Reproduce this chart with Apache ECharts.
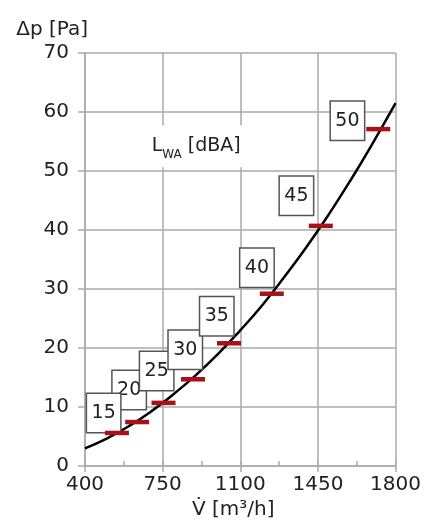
<!DOCTYPE html>
<html><head><meta charset="utf-8">
<script src="https://cdn.jsdelivr.net/npm/echarts@6/dist/echarts.min.js"></script>
<style>html,body{margin:0;padding:0;background:#fff}#c{width:424px;height:531px}</style>
</head><body><div id="c"></div>
<script>
// Fan curve: volume flow [m3/h] vs pressure drop [Pa]
const curveFlow = [400,500,600,700,800,900,1000,1100,1200,1300,1400,1500,1600,1700,1800];
const curvePressure = [3.0,4.7,6.8,9.3,12.2,15.4,19.0,23.0,27.3,32.1,37.2,42.7,48.6,54.9,61.5];
// Sound power level markers on the curve
const levelLabels = ['15','20','25','30','35','40','45','50'];
const levelFlow = [544,635,754,887,1049,1242,1463,1722];
const levelPressure = [5.6,7.45,10.7,14.7,20.8,29.2,40.7,57.1];
// Where each level's boxed label sits (data coordinates)
const boxFlow = [484,599,723,852,994,1175,1353,1583];
const boxPressure = [9.0,12.9,16.1,19.7,25.4,33.6,45.8,58.5];
// Axis ticks
const xTicks = [400,750,1100,1450,1800];
const yTicks = [0,10,20,30,40,50,60,70];
const legendPos = [915, 54.2];

const FONT = 'DejaVu Sans';
const TXT = '#222';
const GRID = '#aaaaaa';

const chart = echarts.init(document.getElementById('c'), null, {renderer:'canvas'});
const curveData = curveFlow.map((v,i)=>[v, curvePressure[i]]);
const barData = levelFlow.map((v,i)=>[v, levelPressure[i]]);
// draw order: 20 below 15 and 25
const order = [1,0,2,3,4,5,6,7];
const boxData = order.map(i=>({value:[boxFlow[i], boxPressure[i]], name: levelLabels[i]}));

chart.setOption({
  animation:false,
  backgroundColor:'#fff',
  grid:{left:85, right:25, top:53, bottom:65, containLabel:false},
  xAxis:[{
    type:'value', min:xTicks[0], max:xTicks[xTicks.length-1], interval:xTicks[1]-xTicks[0],
    name:'V\u0307 [m\u00b3/h]', nameLocation:'middle', nameGap:32,
    nameTextStyle:{fontFamily:FONT, fontSize:20, color:TXT, padding:[0,14,0,0]},
    axisLine:{show:true, lineStyle:{color:GRID, width:1.5}},
    axisTick:{show:true, inside:false, length:6, lineStyle:{color:GRID, width:1.5}},
    axisLabel:{fontFamily:FONT, fontSize:20, color:TXT, margin:9, formatter:v=>String(v)},
    splitLine:{show:true, lineStyle:{color:GRID, width:1.5}}
  },{
    type:'value', min:xTicks[0], max:xTicks[xTicks.length-1], interval:(xTicks[1]-xTicks[0])/2,
    position:'bottom', gridIndex:0,
    axisLine:{show:false}, axisLabel:{show:false}, splitLine:{show:false},
    axisTick:{show:true, inside:true, length:5, lineStyle:{color:GRID, width:1.5}}
  }],
  yAxis:{
    type:'value', min:yTicks[0], max:yTicks[yTicks.length-1], interval:yTicks[1]-yTicks[0],
    name:'\u0394p [Pa]', nameLocation:'end', nameGap:13,
    nameTextStyle:{fontFamily:FONT, fontSize:20, color:TXT, align:'right', padding:[0,-3,0,0]},
    axisLine:{show:true, lineStyle:{color:GRID, width:1.5}},
    axisTick:{show:true, inside:false, length:7, lineStyle:{color:GRID, width:1.5}},
    axisLabel:{fontFamily:FONT, fontSize:20, color:TXT, margin:16},
    splitLine:{show:true, lineStyle:{color:GRID, width:1.5}}
  },
  series:[
    {
      type:'scatter', xAxisIndex:0, symbolSize:1, itemStyle:{color:'rgba(0,0,0,0)', opacity:1},
      data:[{value:legendPos}], silent:true, z:1,
      label:{show:true, position:'inside', opacity:1, backgroundColor:'#fff', padding:[9,14,9,8],
        formatter:'{L|L}{s|WA}{t| [dBA]}',
        rich:{
          L:{fontFamily:FONT, fontSize:19, color:TXT, lineHeight:24},
          s:{fontFamily:FONT, fontSize:12, color:TXT, lineHeight:24, verticalAlign:'bottom', padding:[0,0,-3,0]},
          t:{fontFamily:FONT, fontSize:19, color:TXT, lineHeight:24}
        }}
    },
    {
      type:'line', xAxisIndex:0, data:curveData, smooth:true, showSymbol:false, symbol:'none',
      lineStyle:{color:'#000', width:2.5}, clip:true, z:3, silent:true
    },
    {
      type:'scatter', xAxisIndex:0, data:boxData, symbolSize:1, itemStyle:{color:'rgba(0,0,0,0)', opacity:1}, z:4, silent:true,
      label:{show:true, position:'inside', opacity:1, formatter:p=>p.name,
        fontFamily:FONT, fontSize:19, color:TXT,
        backgroundColor:'#fff', borderColor:'#555', borderWidth:1.5,
        width:33, height:38, lineHeight:38, align:'center', verticalAlign:'middle', padding:0}
    },
    {
      type:'scatter', xAxisIndex:0, data:barData, symbol:'rect', symbolSize:[24,4.5],
      itemStyle:{color:'#a8101a', opacity:1}, z:6, silent:true
    }
  ]
});
</script></body></html>
